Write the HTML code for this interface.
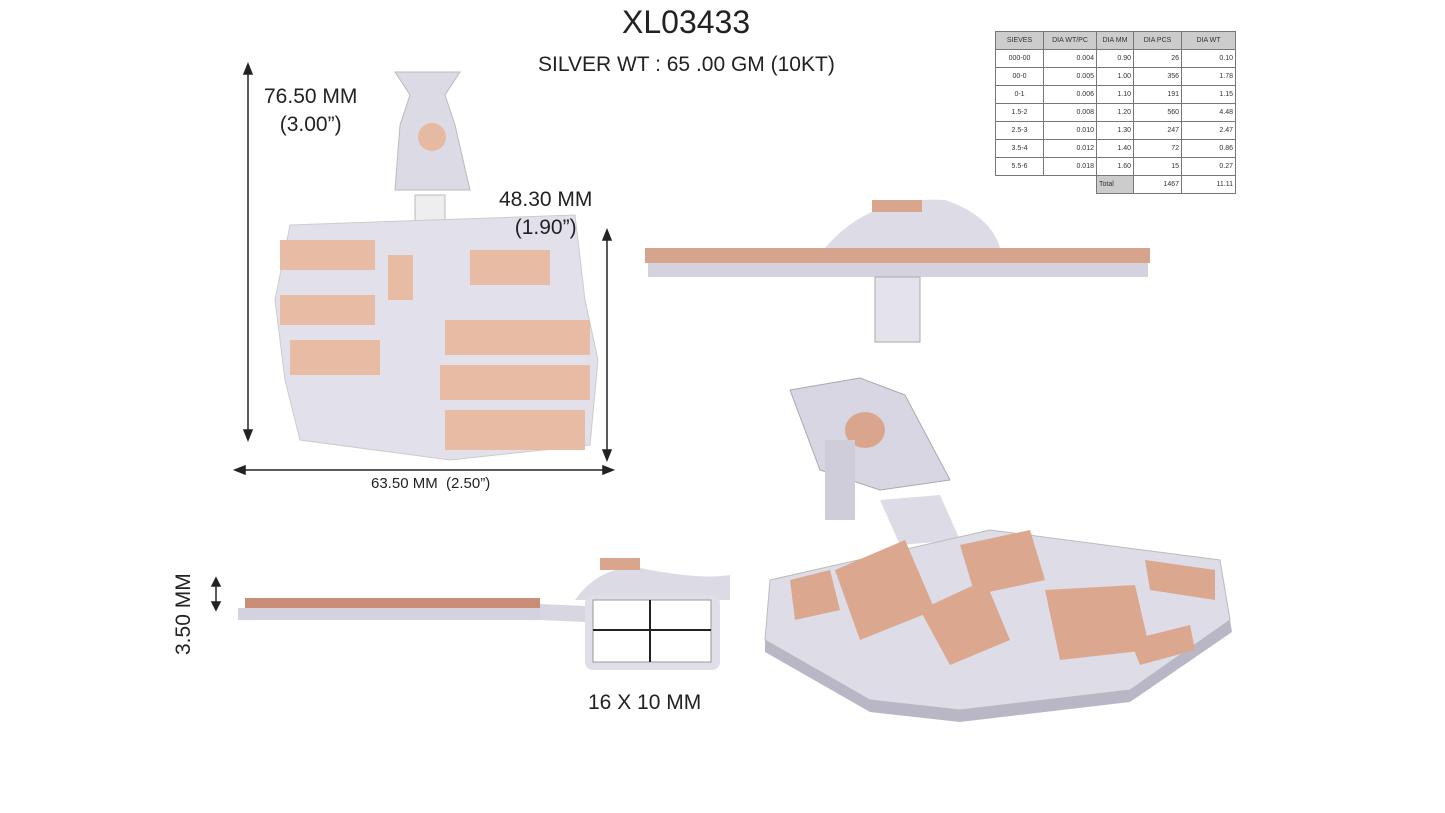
<!DOCTYPE html>
<html><head><style>
body{margin:0;width:1445px;height:813px;background:#fff;position:relative;overflow:hidden;font-family:"Liberation Sans",Arial,sans-serif;}
.t{position:absolute;color:#222;white-space:nowrap;z-index:2}
table{position:absolute;left:995px;top:31px;border-collapse:collapse;font-size:7px;color:#333}
td{border:1px solid #777;height:17px;padding:0 2px;text-align:right}
tr:first-child td{background:#ccc;text-align:center;height:17px}
td.c{text-align:center}
svg{z-index:1}
</style></head><body>
<div class="t" style="left:622px;top:4px;font-size:32px">XL03433</div>
<div class="t" style="left:538px;top:53px;font-size:21px">SILVER WT : 65 .00 GM (10KT)</div>
<table>
<tr><td style="width:43px">SIEVES</td><td style="width:48px">DIA WT/PC</td><td style="width:32px">DIA MM</td><td style="width:43px">DIA PCS</td><td style="width:49px">DIA WT</td></tr>
<tr><td class="c">000-00</td><td>0.004</td><td>0.90</td><td>26</td><td>0.10</td></tr>
<tr><td class="c">00-0</td><td>0.005</td><td>1.00</td><td>356</td><td>1.78</td></tr>
<tr><td class="c">0-1</td><td>0.006</td><td>1.10</td><td>191</td><td>1.15</td></tr>
<tr><td class="c">1.5-2</td><td>0.008</td><td>1.20</td><td>560</td><td>4.48</td></tr>
<tr><td class="c">2.5-3</td><td>0.010</td><td>1.30</td><td>247</td><td>2.47</td></tr>
<tr><td class="c">3.5-4</td><td>0.012</td><td>1.40</td><td>72</td><td>0.86</td></tr>
<tr><td class="c">5.5-6</td><td>0.018</td><td>1.60</td><td>15</td><td>0.27</td></tr>
<tr><td style="border:none"></td><td style="border:none"></td><td style="background:#ccc;text-align:left">Total</td><td>1467</td><td>11.11</td></tr>
</table>
<div class="t" style="left:264px;top:83px;font-size:21px;text-align:center;line-height:28px">76.50 MM<br>(3.00”)</div>
<div class="t" style="left:499px;top:186px;font-size:21px;text-align:center;line-height:28px">48.30 MM<br>(1.90”)</div>
<div class="t" style="left:371px;top:475px;font-size:15px">63.50 MM&nbsp; (2.50”)</div>
<div class="t" style="left:588px;top:691px;font-size:21px">16 X 10 MM</div>
<div class="t" style="left:172px;top:655px;font-size:21px;transform:rotate(-90deg);transform-origin:left top;">3.50 MM</div>
<svg width="1445" height="813" style="position:absolute;left:0;top:0">
<g stroke="#222" stroke-width="1.5" fill="#222">
<line x1="248" y1="70" x2="248" y2="435"/><polygon points="248,64 244,74 252,74"/><polygon points="248,440 244,430 252,430"/>
<line x1="607" y1="235" x2="607" y2="455"/><polygon points="607,230 603,240 611,240"/><polygon points="607,460 603,450 611,450"/>
<line x1="240" y1="470" x2="608" y2="470"/><polygon points="235,470 245,466 245,474"/><polygon points="613,470 603,466 603,474"/>
<line x1="216" y1="583" x2="216" y2="605"/><polygon points="216,578 212,586 220,586"/><polygon points="216,610 212,602 220,602"/>
</g>
<path d="M395,190 L470,190 L455,125 L445,95 L460,72 L395,72 L410,95 L400,125 Z" fill="#dcdae4" stroke="#bbb"/>
<circle cx="432" cy="137" r="14" fill="#e5b9a2"/>
<rect x="415" y="195" width="30" height="45" fill="#eee" stroke="#bbb"/>
<path d="M290,225 L575,215 L585,300 L598,360 L590,445 L450,460 L300,440 L285,380 L275,300 Z" fill="#e2e0ea" stroke="#ccc"/>
<g fill="#e8bba4">
<rect x="280" y="240" width="95" height="30"/><rect x="280" y="295" width="95" height="30"/><rect x="290" y="340" width="90" height="35"/>
<rect x="445" y="320" width="145" height="35"/><rect x="440" y="365" width="150" height="35"/><rect x="445" y="410" width="140" height="40"/>
<rect x="388" y="255" width="25" height="45"/><rect x="470" y="250" width="80" height="35"/>
</g>
<path d="M825,248 Q870,195 945,200 Q990,215 1000,248 Z" fill="#dddbe5"/>
<rect x="872" y="200" width="50" height="12" fill="#d9a68d"/>
<rect x="645" y="248" width="505" height="15" fill="#d6a48d"/>
<rect x="648" y="263" width="500" height="14" fill="#d4d2de"/>
<rect x="875" y="277" width="45" height="65" fill="#e4e2ea" stroke="#aaa"/>
<rect x="245" y="598" width="295" height="10" fill="#c98e75"/>
<rect x="238" y="608" width="305" height="12" fill="#d4d2de"/>
<polygon points="540,604 585,606 585,622 540,620" fill="#d8d6e2"/>
<path d="M575,600 Q600,565 640,568 Q700,580 730,575 L730,600 Z" fill="#dcdae4"/>
<rect x="600" y="558" width="40" height="12" fill="#d9a68d"/>
<rect x="585" y="595" width="135" height="75" rx="8" fill="#e0dee8"/>
<rect x="593" y="600" width="118" height="62" fill="#fff" stroke="#999"/>
<line x1="650" y1="600" x2="650" y2="662" stroke="#222" stroke-width="2"/>
<line x1="593" y1="630" x2="711" y2="630" stroke="#222" stroke-width="2"/>
<path d="M790,390 L860,378 L905,395 L950,480 L880,490 L820,470 Z" fill="#d8d6e2" stroke="#aaa"/>
<ellipse cx="865" cy="430" rx="20" ry="18" fill="#d9a68d"/>
<rect x="825" y="440" width="30" height="80" fill="#cfcdd9"/>
<polygon points="880,500 940,495 960,540 900,545" fill="#dddbe5"/>
<path d="M770,580 L990,530 L1220,560 L1230,620 L1130,690 L960,710 L870,700 L765,640 Z" fill="#dedce6" stroke="#bbb"/>
<path d="M765,640 L870,700 L960,710 L1130,690 L1230,620 L1232,632 L1130,702 L960,722 L870,712 L765,652 Z" fill="#b9b7c5"/>
<g fill="#dba88f">
<polygon points="835,570 905,540 935,610 860,640"/><polygon points="920,610 985,580 1010,640 950,665"/>
<polygon points="1045,590 1135,585 1150,650 1060,660"/><polygon points="960,545 1030,530 1045,580 975,595"/>
<polygon points="1145,560 1215,570 1215,600 1150,590"/><polygon points="790,580 830,570 840,610 795,620"/>
<polygon points="1130,640 1190,625 1195,650 1140,665"/>
</g>
</svg>
</body></html>
